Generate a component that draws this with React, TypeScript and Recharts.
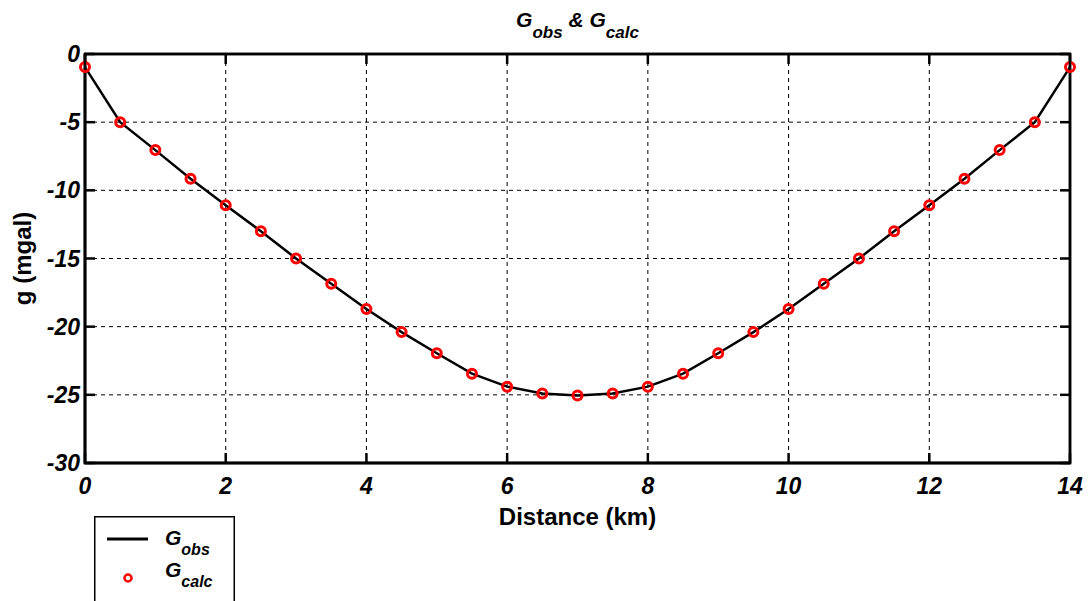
import React from 'react'
import {
  CartesianGrid,
  ComposedChart,
  Legend,
  Line,
  ReferenceArea,
  Scatter,
  XAxis,
  YAxis,
} from 'recharts'

// profile stations (km)
const distance = [
  0, 0.5, 1, 1.5, 2, 2.5, 3, 3.5, 4, 4.5, 5, 5.5, 6, 6.5, 7, 7.5, 8, 8.5, 9,
  9.5, 10, 10.5, 11, 11.5, 12, 12.5, 13, 13.5, 14,
]

// observed gravity (mgal)
const gObs = [
  -0.96, -5.0, -7.05, -9.15, -11.1, -13.0, -15.0, -16.85, -18.7, -20.4, -21.95,
  -23.45, -24.4, -24.9, -25.05, -24.9, -24.4, -23.45, -21.95, -20.4, -18.7,
  -16.85, -15.0, -13.0, -11.1, -9.15, -7.05, -5.0, -0.96,
]

// calculated gravity (mgal)
const gCalc = [
  -0.96, -5.0, -7.05, -9.15, -11.1, -13.0, -15.0, -16.85, -18.7, -20.4, -21.95,
  -23.45, -24.4, -24.9, -25.05, -24.9, -24.4, -23.45, -21.95, -20.4, -18.7,
  -16.85, -15.0, -13.0, -11.1, -9.15, -7.05, -5.0, -0.96,
]

const xTicks = [0, 2, 4, 6, 8, 10, 12, 14]
const yTicks = [0, -5, -10, -15, -20, -25, -30]

const data = distance.map((d, i) => ({
  distance: d,
  gObs: gObs[i],
  gCalc: gCalc[i],
}))

const FONT = '"Liberation Sans", Arial, Helvetica, sans-serif'
const W = 1089
const H = 601
const MARGIN = { top: 54, right: 19, bottom: 98, left: 0 }
const PLOT_TOP = MARGIN.top
const PLOT_RIGHT = W - MARGIN.right
const TICK_LEN = 10

const tickText = {
  fontFamily: FONT,
  fontSize: 23,
  fontWeight: 'bold',
  fontStyle: 'italic',
  fill: '#000',
} as const

// bottom ticks also draw the matching inward mark on the top edge
const BottomTick = ({ x, y, payload }: any) => (
  <g>
    <path d={`M${x},${y}V${y - TICK_LEN}`} stroke="#000" strokeWidth={2.5} />
    <path d={`M${x},${PLOT_TOP}V${PLOT_TOP + TICK_LEN}`} stroke="#000" strokeWidth={2.5} />
    <text x={x} y={y + 23} textAnchor="middle" dominantBaseline="central" {...tickText}>
      {payload.value}
    </text>
  </g>
)

// left ticks also draw the matching inward mark on the right edge
const LeftTick = ({ x, y, payload }: any) => (
  <g>
    <path d={`M${x},${y}H${x + TICK_LEN}`} stroke="#000" strokeWidth={2.5} />
    <path d={`M${PLOT_RIGHT},${y}H${PLOT_RIGHT - TICK_LEN}`} stroke="#000" strokeWidth={2.5} />
    <text x={x - 5} y={y} textAnchor="end" dominantBaseline="central" {...tickText}>
      {payload.value}
    </text>
  </g>
)

const TitleLabel = ({ viewBox }: any) => (
  <text
    x={viewBox.x + viewBox.width / 2}
    y={viewBox.y - 27}
    textAnchor="middle"
    fontFamily={FONT}
    fontSize={21}
    fontWeight="bold"
    fontStyle="italic"
    fill="#000"
  >
    <tspan>G</tspan>
    <tspan dy={11} fontSize={17}>obs</tspan>
    <tspan dy={-11}> &amp; G</tspan>
    <tspan dy={11} fontSize={17}>calc</tspan>
  </text>
)

const XLabel = ({ viewBox }: any) => (
  <text
    x={viewBox.x + viewBox.width / 2}
    y={viewBox.y + 62}
    textAnchor="middle"
    fontFamily={FONT}
    fontSize={24}
    fontWeight="bold"
    fill="#000"
  >
    Distance (km)
  </text>
)

// y label, plus the box around the plot area
const YLabel = ({ viewBox }: any) => {
  const x = viewBox.x + 22
  const y = viewBox.y + viewBox.height / 2
  return (
    <g>
      <rect
        x={viewBox.x + viewBox.width}
        y={viewBox.y}
        width={PLOT_RIGHT - viewBox.x - viewBox.width}
        height={viewBox.height}
        fill="none"
        stroke="#000"
        strokeWidth={2.5}
      />
      <text
        x={x}
        y={y}
        transform={`rotate(-90 ${x} ${y})`}
        textAnchor="middle"
        dominantBaseline="central"
        fontFamily={FONT}
        fontSize={24}
        fontWeight="bold"
        fill="#000"
      >
        g (mgal)
      </text>
    </g>
  )
}

const CalcDot = ({ cx, cy }: any) => (
  <circle cx={cx} cy={cy} r={4.5} fill="none" stroke="#ff0000" strokeWidth={3} />
)

const LegendBox = ({ payload }: any) => {
  const items = payload || []
  return (
    <svg width={141} height={90} style={{ display: 'block' }}>
      <rect x={0.75} y={0.75} width={139.5} height={100} fill="#fff" stroke="#000" strokeWidth={1.5} />
      {items.map((entry: any) => {
        const [main, sub] = String(entry.value).split('_')
        const isObs = entry.dataKey === 'gObs'
        const base = isObs ? 29 : 61
        return (
          <g key={entry.dataKey}>
            {isObs ? (
              <line x1={13} y1={23} x2={54} y2={23} stroke="#000" strokeWidth={3} />
            ) : (
              <circle cx={34} cy={62} r={3.5} fill="none" stroke="#ff0000" strokeWidth={2.5} />
            )}
            <text
              x={71}
              y={base}
              fontFamily={FONT}
              fontSize={21}
              fontWeight="bold"
              fontStyle="italic"
              fill="#000"
            >
              <tspan>{main}</tspan>
              <tspan dy={10} fontSize={16}>{sub}</tspan>
            </text>
          </g>
        )
      })}
    </svg>
  )
}

export default function App() {
  return (
    <div style={{ position: 'absolute', left: 0, top: 0, background: '#fff' }}>
      <ComposedChart width={W} height={H} data={data} margin={MARGIN}>
        <CartesianGrid stroke="#000" strokeWidth={1} strokeDasharray="4 4" />
        <XAxis
          dataKey="distance"
          type="number"
          domain={[xTicks[0], xTicks[xTicks.length - 1]]}
          ticks={xTicks}
          height={40}
          tickSize={0}
          tickMargin={0}
          tickLine={false}
          axisLine={{ stroke: '#000', strokeWidth: 2.5 }}
          tick={<BottomTick />}
          interval={0}
          label={{ content: <XLabel /> }}
        />
        <YAxis
          type="number"
          domain={[yTicks[yTicks.length - 1], yTicks[0]]}
          ticks={yTicks}
          width={85}
          tickSize={0}
          tickMargin={0}
          tickLine={false}
          axisLine={{ stroke: '#000', strokeWidth: 2.5 }}
          tick={<LeftTick />}
          interval={0}
          label={{ content: <YLabel /> }}
        />
        <ReferenceArea
          x1={xTicks[0]}
          x2={xTicks[xTicks.length - 1]}
          y1={yTicks[yTicks.length - 1]}
          y2={yTicks[0]}
          fill="none"
          fillOpacity={0}
          stroke="#000"
          strokeWidth={2.5}
          ifOverflow="visible"
          label={{ content: <TitleLabel /> }}
        />
        <Line
          dataKey="gObs"
          name="G_obs"
          stroke="#000"
          strokeWidth={2.5}
          dot={false}
          isAnimationActive={false}
        />
        <Scatter
          dataKey="gCalc"
          name="G_calc"
          shape={<CalcDot />}
          isAnimationActive={false}
        />
        <Legend
          layout="horizontal"
          verticalAlign="middle"
          align="center"
          content={<LegendBox />}
          wrapperStyle={{ position: 'absolute', left: 94, top: 516, width: 141, height: 90 }}
        />
      </ComposedChart>
    </div>
  )
}
